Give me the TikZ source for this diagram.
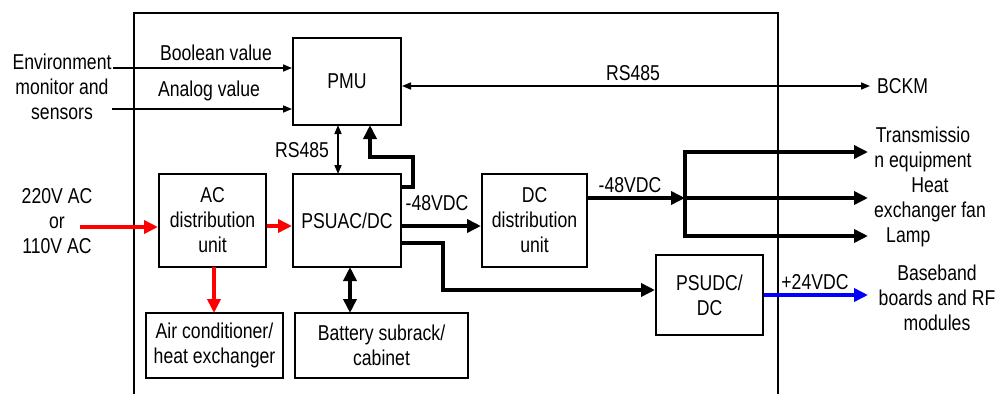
\documentclass[tikz,border=0pt]{standalone}
\usepackage{fontspec}
\setmainfont[FakeStretch=0.82]{Liberation Sans}
\usetikzlibrary{arrows.meta}
\begin{document}
\begin{tikzpicture}[x=1pt,y=-1pt,
  font=\fontsize{21.5}{25}\selectfont,
  box/.style={draw,line width=2pt,rectangle,inner sep=0pt,align=center},
  lbl/.style={inner sep=0pt,align=center},
  thin/.style={line width=1.6pt,-{Triangle[length=9pt,width=7pt]}},
  thindbl/.style={line width=1.6pt,{Triangle[length=9pt,width=7pt]}-{Triangle[length=9pt,width=7pt]}},
  thick/.style={line width=4pt,-{Triangle[length=14pt,width=13pt]}},
  thickdbl/.style={line width=4pt,{Triangle[length=14pt,width=13pt]}-{Triangle[length=14pt,width=13pt]}},
  redarr/.style={thick,draw=red,color=red},
  bluearr/.style={thick,draw=blue,color=blue}]
\useasboundingbox (0,0) rectangle (1000,394);
% frame
\draw[line width=2pt] (134,394) -- (134,13) -- (778,13) -- (778,394);
% boxes
\node[box,minimum width=108pt,minimum height=87pt] (pmu) at (347,81.5) {PMU};
\node[box,minimum width=107pt,minimum height=93pt] (acd) at (212.5,220.5) {AC\\distribution\\unit};
\node[box,minimum width=108pt,minimum height=93pt] (psuac) at (347,220.5) {PSUAC/DC};
\node[box,minimum width=105pt,minimum height=93pt] (dcd) at (534.5,220.5) {DC\\distribution\\unit};
\node[box,minimum width=107pt,minimum height=80pt] (psudc) at (709.5,295) {PSUDC/\\DC};
\node[box,minimum width=137pt,minimum height=65pt] (air) at (214.5,345.5) {Air conditioner/\\heat exchanger};
\node[box,minimum width=173pt,minimum height=65pt] (bat) at (381.5,345.5) {Battery subrack/\\cabinet};
% outside texts
\node[lbl] (env) at (62,87) {Environment\\monitor and\\sensors};
\node[lbl] (boolv) at (216,53) {Boolean value};
\node[lbl] (anav) at (209,91) {Analog value};
\node[lbl] (rsa) at (633,73) {RS485};
\node[lbl,anchor=west] (bckm) at (877,86) {BCKM};
\node[lbl] (rsb) at (302,150) {RS485};
\node[lbl] (ac220) at (57,221) {220V AC\\or\\110V AC};
\node[lbl] (v48a) at (437,203) {-48VDC};
\node[lbl] (v48b) at (630,185) {-48VDC};
\node[lbl] (trans) at (923,149.5) {Transmissio\\n equipment};
\node[lbl] (heat) at (930,200) {Heat\\exchanger fan};
\node[lbl,anchor=west] (lamp) at (886,237) {Lamp};
\node[lbl] (v24) at (815,282) {+24VDC};
\node[lbl] (bb) at (937,298) {Baseband\\boards and RF\\modules};
% coordinates
\coordinate (b0) at (113,68);
\coordinate (a0) at (112,109);
\coordinate (bck) at (870,86);
\coordinate (r0) at (80,227);
\coordinate (bt) at (685,152);
\coordinate (bm) at (685,198);
\coordinate (bb0) at (685,236);
\coordinate (t1) at (868,152);
\coordinate (t2) at (868,198);
\coordinate (t3) at (868,236);
\coordinate (bl) at (868,295);
% thin connectors
\draw[thin] (b0) -- (b0 -| pmu.west);
\draw[thin] (a0) -- (a0 -| pmu.west);
\draw[thindbl] (pmu.east |- bck) -- (bck);
\draw[thindbl] (338,125) -- (338,174);
% thick connectors
\draw[thick] (psuac.east |- 0,187) -- (413,187) -- (413,157) -- (370,157) -- (370,125);
\draw[thick] (psuac.east |- 0,226) -- (dcd.west |- 0,226);
\draw[thick] (psuac.east |- 0,243) -- (443,243) -- (443,290) -- (psudc.west |- 0,290);
\draw[thick] (dcd.east |- 0,198) -- (bm);
\draw[line width=4pt,line cap=rect] (bt) -- (bb0);
\draw[thick] (bt) -- (t1);
\draw[thick] (bm) -- (t2);
\draw[thick] (bb0) -- (t3);
\draw[thickdbl] (350,267) -- (350,313);
% red
\draw[redarr] (r0) -- (acd.west |- r0);
\draw[redarr] (acd.east |- 0,226) -- (psuac.west |- 0,226);
\draw[redarr] (214,267) -- (214,313);
% blue
\draw[bluearr] (psudc.east |- bl) -- (bl);
\end{tikzpicture}
\end{document}
